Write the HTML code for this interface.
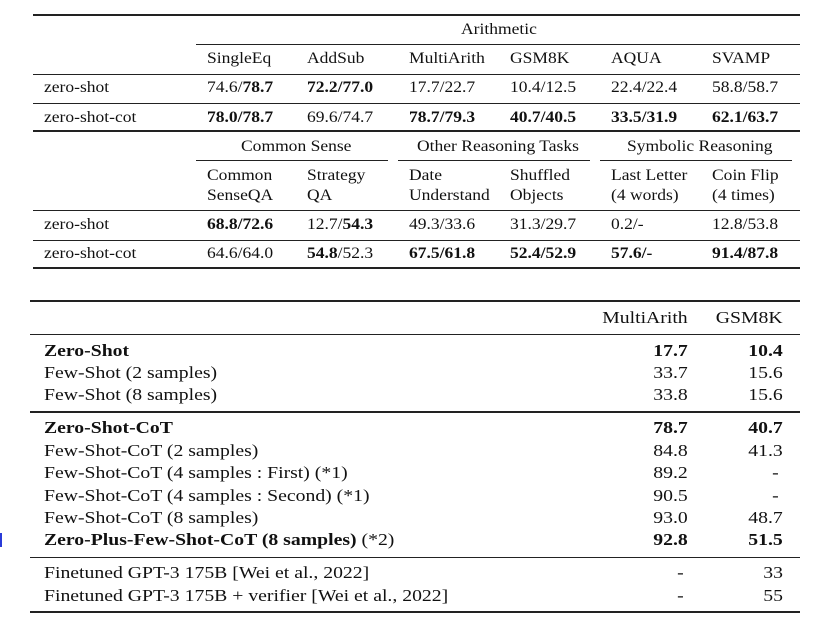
<!DOCTYPE html>
<html><head><meta charset="utf-8"><style>
body{margin:0;width:832px;height:628px;background:#fff;position:relative;overflow:hidden;font-family:"Liberation Serif",serif;color:#111}
.t{position:absolute;height:20px;line-height:20px;white-space:nowrap;font-size:15.5px;transform:scaleX(1.13);transform-origin:left center}
.b{font-size:17px;transform:scaleX(1.16)}
.rt{transform-origin:right center}
.r{position:absolute;background:#222;height:1px}
.th{height:2px}
.bold{font-weight:bold}
</style></head><body>
<div>
<div class="r th" style="left:33px;width:767px;top:14px"></div>
<div class="t" style="left:461px;top:20px">Arithmetic</div>
<div class="r" style="left:196px;width:604px;top:44px"></div>
<div class="t" style="left:207px;top:49px">SingleEq</div>
<div class="t" style="left:307px;top:49px">AddSub</div>
<div class="t" style="left:409px;top:49px">MultiArith</div>
<div class="t" style="left:510px;top:49px">GSM8K</div>
<div class="t" style="left:611px;top:49px">AQUA</div>
<div class="t" style="left:712px;top:49px">SVAMP</div>
<div class="r" style="left:33px;width:767px;top:74px"></div>
<div class="t" style="left:44px;top:78px">zero-shot</div>
<div class="t" style="left:207px;top:78px">74.6/<b>78.7</b></div>
<div class="t bold" style="left:307px;top:78px">72.2/77.0</div>
<div class="t" style="left:409px;top:78px">17.7/22.7</div>
<div class="t" style="left:510px;top:78px">10.4/12.5</div>
<div class="t" style="left:611px;top:78px">22.4/22.4</div>
<div class="t" style="left:712px;top:78px">58.8/58.7</div>
<div class="r" style="left:33px;width:767px;top:103px"></div>
<div class="t" style="left:44px;top:108px">zero-shot-cot</div>
<div class="t bold" style="left:207px;top:108px">78.0/78.7</div>
<div class="t" style="left:307px;top:108px">69.6/74.7</div>
<div class="t bold" style="left:409px;top:108px">78.7/79.3</div>
<div class="t bold" style="left:510px;top:108px">40.7/40.5</div>
<div class="t bold" style="left:611px;top:108px">33.5/31.9</div>
<div class="t bold" style="left:712px;top:108px">62.1/63.7</div>
<div class="r th" style="left:33px;width:767px;top:130px"></div>
<div class="t" style="left:241px;top:137px">Common Sense</div>
<div class="t" style="left:417px;top:137px">Other Reasoning Tasks</div>
<div class="t" style="left:627px;top:137px">Symbolic Reasoning</div>
<div class="r" style="left:196px;width:192px;top:160px"></div>
<div class="r" style="left:398px;width:192px;top:160px"></div>
<div class="r" style="left:600px;width:192px;top:160px"></div>
<div class="t" style="left:207px;top:166px">Common</div><div class="t" style="left:207px;top:186px">SenseQA</div>
<div class="t" style="left:307px;top:166px">Strategy</div><div class="t" style="left:307px;top:186px">QA</div>
<div class="t" style="left:409px;top:166px">Date</div><div class="t" style="left:409px;top:186px">Understand</div>
<div class="t" style="left:510px;top:166px">Shuffled</div><div class="t" style="left:510px;top:186px">Objects</div>
<div class="t" style="left:611px;top:166px">Last Letter</div><div class="t" style="left:611px;top:186px">(4 words)</div>
<div class="t" style="left:712px;top:166px">Coin Flip</div><div class="t" style="left:712px;top:186px">(4 times)</div>
<div class="r" style="left:33px;width:767px;top:210px"></div>
<div class="t" style="left:44px;top:215px">zero-shot</div>
<div class="t bold" style="left:207px;top:215px">68.8/72.6</div>
<div class="t" style="left:307px;top:215px">12.7/<b>54.3</b></div>
<div class="t" style="left:409px;top:215px">49.3/33.6</div>
<div class="t" style="left:510px;top:215px">31.3/29.7</div>
<div class="t" style="left:611px;top:215px">0.2/-</div>
<div class="t" style="left:712px;top:215px">12.8/53.8</div>
<div class="r" style="left:33px;width:767px;top:240px"></div>
<div class="t" style="left:44px;top:244px">zero-shot-cot</div>
<div class="t" style="left:207px;top:244px">64.6/64.0</div>
<div class="t" style="left:307px;top:244px"><b>54.8</b>/52.3</div>
<div class="t bold" style="left:409px;top:244px">67.5/61.8</div>
<div class="t bold" style="left:510px;top:244px">52.4/52.9</div>
<div class="t bold" style="left:611px;top:244px">57.6/-</div>
<div class="t bold" style="left:712px;top:244px">91.4/87.8</div>
<div class="r th" style="left:33px;width:767px;top:267px"></div>
</div>
<div>
<div class="r th" style="left:30px;width:770px;top:300px"></div>
<div class="t b rt" style="right:144px;top:308px">MultiArith</div>
<div class="t b rt" style="right:49px;top:308px">GSM8K</div>
<div class="r" style="left:30px;width:770px;top:334px"></div>
<div class="r th" style="left:30px;width:770px;top:411px"></div>
<div class="r" style="left:30px;width:770px;top:557px"></div>
<div class="r th" style="left:30px;width:770px;top:611px"></div>
<div id="rows"></div>
</div>
<div style="position:absolute;left:0;top:533px;width:2px;height:14px;background:#2a3bd8"></div>
<script>
const labels=["Zero-Shot","Few-Shot (2 samples)","Few-Shot (8 samples)","Zero-Shot-CoT","Few-Shot-CoT (2 samples)","Few-Shot-CoT (4 samples : First) (*1)","Few-Shot-CoT (4 samples : Second) (*1)","Few-Shot-CoT (8 samples)","Zero-Plus-Few-Shot-CoT (8 samples)","Finetuned GPT-3 175B [Wei et al., 2022]","Finetuned GPT-3 175B + verifier [Wei et al., 2022]"];
const multiArith=["17.7","33.7","33.8","78.7","84.8","89.2","90.5","93.0","92.8","-","-"];
const gsm8k=["10.4","15.6","15.6","40.7","41.3","-","-","48.7","51.5","33","55"];
const boldRows=[0,3,8];
const ys=[351,373,395,428,451,473,496,518,540,573,596];
const c=document.getElementById('rows');
labels.forEach((l,i)=>{
 const bold=boldRows.includes(i);
 const d=document.createElement('div');d.className='t b'+(bold?' bold':'');
 d.style.left='44px';d.style.top=(ys[i]-10)+'px';
 d.innerHTML=l+(i==8?' <span style="font-weight:normal">(*2)</span>':'');
 
 
 c.appendChild(d);
 [[multiArith[i],144],[gsm8k[i],49]].forEach(([v,r])=>{
  const e=document.createElement('div');e.className='t b rt'+(bold?' bold':'');
  e.style.right=(v==='-'?(r+4):r)+'px';e.style.top=(ys[i]-10)+'px';e.textContent=v;
  
  
  c.appendChild(e);
 });
});
</script>
</body></html>
